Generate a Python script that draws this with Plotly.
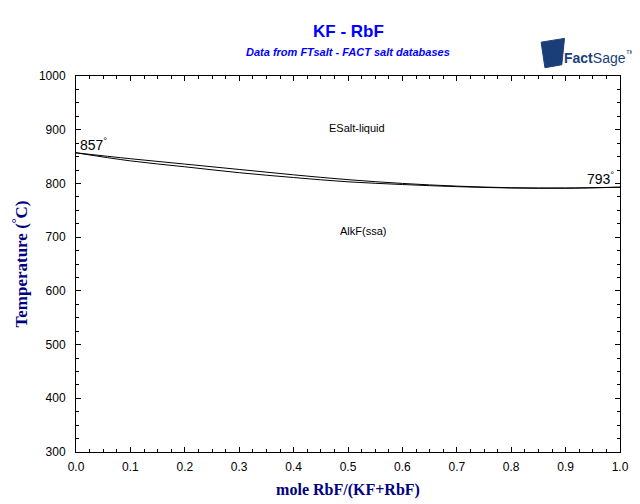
import plotly.graph_objects as go

x_comp = [0.0, 0.1, 0.2, 0.3, 0.4, 0.5, 0.6, 0.7, 0.8, 0.9, 1.0]
liquidus = [857, 846, 836, 826, 816, 807, 800, 795, 792, 791.5, 793]
solidus = [857, 842, 831, 820, 811, 803, 798, 794, 791.5, 791, 793]

fig = go.Figure()
fig.add_trace(go.Scatter(x=x_comp, y=liquidus, mode="lines", line=dict(color="black", width=1, shape="spline"), showlegend=False, hoverinfo="skip"))
fig.add_trace(go.Scatter(x=x_comp, y=solidus, mode="lines", line=dict(color="black", width=1, shape="spline"), showlegend=False, hoverinfo="skip"))

font_lbl = dict(family="Liberation Sans, Arial", size=11, color="black")
ann = [
    dict(x=0.0, y=857, text="857<sup>°</sup>", xanchor="left", yanchor="bottom", xshift=2, yshift=-2, font=dict(family="Liberation Sans, Arial", size=14, color="black")),
    dict(x=1.0, y=793, text="793<sup>°</sup>", xanchor="right", yanchor="bottom", xshift=-4, yshift=-2, font=dict(family="Liberation Sans, Arial", size=14, color="black")),
    dict(x=0.517, y=903, text="ESalt-liquid", xanchor="center", yanchor="middle", font=font_lbl),
    dict(x=0.528, y=711, text="AlkF(ssa)", xanchor="center", yanchor="middle", font=font_lbl),
    dict(x=0.5, y=1.0, xref="paper", yref="paper", yshift=45, text="<b>KF - RbF</b>", xanchor="center", yanchor="middle",
         font=dict(family="Liberation Sans, Arial", size=17, color="#0000ff")),
    dict(x=0.5, y=1.0, xref="paper", yref="paper", yshift=24, text="<b><i>Data from FTsalt - FACT salt databases</i></b>", xanchor="center", yanchor="middle",
         font=dict(family="Liberation Sans, Arial", size=11, color="#0000ff")),
    dict(x=0.893, y=1.0, xref="paper", yref="paper", yshift=19, text="<b>Fact</b>Sage<sup>™</sup>", xanchor="left", yanchor="middle",
         font=dict(family="Liberation Sans Narrow, Liberation Sans", size=14, color="#1a3f78")),
]
for a in ann:
    a["showarrow"] = False
fig.update_layout(annotations=ann)

fig.add_shape(type="path", xref="paper", yref="paper",
              path="M 0.855,1.090 L 0.898,1.100 L 0.893,1.030 L 0.862,1.022 Z",
              fillcolor="#1a3f78", line=dict(color="#1a3f78", width=1))

axis_common = dict(showgrid=False, zeroline=False, showline=True, linecolor="black", linewidth=1,
                   mirror="ticks", ticks="inside", ticklen=5, tickcolor="black", automargin=False,
                   tickfont=dict(family="Liberation Sans, Arial", size=12, color="black"))

fig.update_xaxes(range=[0, 1], tickvals=[0, 0.1, 0.2, 0.3, 0.4, 0.5, 0.6, 0.7, 0.8, 0.9, 1.0],
                 ticktext=["0.0", "0.1", "0.2", "0.3", "0.4", "0.5", "0.6", "0.7", "0.8", "0.9", "1.0"],
                 minor=dict(ticks="inside", dtick=0.025, ticklen=3, tickcolor="black"),
                 ticklabelstandoff=4,
                 title=dict(text="<b>mole RbF/(KF+RbF)</b>", font=dict(family="Liberation Serif, Times New Roman", size=16, color="#000080"), standoff=10),
                 **axis_common)
fig.update_yaxes(range=[300, 1000], tickvals=[300, 400, 500, 600, 700, 800, 900, 1000],
                 minor=dict(ticks="inside", dtick=25, ticklen=3, tickcolor="black"),
                 ticklabelstandoff=7,
                 title=dict(text="<b>Temperature (<sup>°</sup>C)</b>", font=dict(family="Liberation Serif, Times New Roman", size=17, color="#000080"), standoff=6),
                 **axis_common)

fig.update_layout(width=632, height=496, margin=dict(l=68, r=20, t=68, b=52),
                  plot_bgcolor="white", paper_bgcolor="white", showlegend=False)

fig.write_html("out.html")
